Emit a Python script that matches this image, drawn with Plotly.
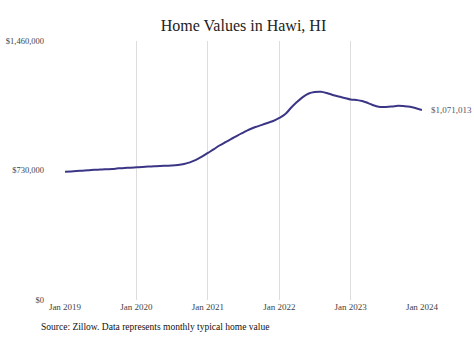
import plotly.graph_objects as go
import pandas as pd

dates = pd.date_range("2019-01-01", "2024-01-01", freq="MS")
values = [
    723000, 725000, 727000, 729000, 731000, 734000, 735000, 737000, 739000, 742000, 744000, 746000,
    748000, 750000, 752000, 754000, 756000, 757000, 758000, 761000, 767000, 776000, 790000, 808000,
    829000, 850000, 871000, 890000, 908000, 927000, 944000, 961000, 975000, 986000, 998000, 1009000,
    1026000, 1048000, 1082000, 1116000, 1144000, 1164000, 1172000, 1174000, 1167000, 1156000, 1147000, 1139000,
    1130000, 1127000, 1122000, 1110000, 1096000, 1088000, 1088000, 1091000, 1095000, 1093000, 1089000, 1081000,
    1071013,
]
x_ticks = ["2019-01-01", "2020-01-01", "2021-01-01", "2022-01-01", "2023-01-01", "2024-01-01"]
x_labels = ["Jan 2019", "Jan 2020", "Jan 2021", "Jan 2022", "Jan 2023", "Jan 2024"]
y_ticks = [0, 730000, 1460000]
y_labels = ["$0", "$730,000", "$1,460,000"]
last_label = "$1,071,013"

FONT = "Liberation Serif"
fig = go.Figure()
fig.add_trace(go.Scatter(x=dates, y=values, mode="lines",
                         line=dict(color="#3b3585", width=2, shape="spline", smoothing=1),
                         hoverinfo="skip"))
fig.add_annotation(x=dates[-1], y=values[-1], text=last_label, showarrow=False,
                   xanchor="left", xshift=7, font=dict(family=FONT, size=9, color="#555566"))
fig.update_layout(
    width=474, height=338,
    margin=dict(l=65, r=52, t=41, b=38, autoexpand=False),
    paper_bgcolor="white", plot_bgcolor="white",
    showlegend=False,
    title=dict(text="Home Values in Hawi, HI", x=0.5, xref="paper", y=0.925, yref="container",
               xanchor="center", yanchor="middle",
               font=dict(family=FONT, size=16, color="#222222")),
    font=dict(family=FONT),
)
fig.update_xaxes(range=[dates[0], dates[-1]], tickvals=x_ticks, ticktext=x_labels,
                 showgrid=True, gridcolor="#dddddd", gridwidth=1, zeroline=False,
                 showline=False, ticks="", automargin=False,
                 tickfont=dict(family=FONT, size=9, color="#444444"))
fig.update_yaxes(range=[0, 1460000], tickvals=y_ticks, ticktext=y_labels,
                 showgrid=False, zeroline=False, showline=False, ticks="",
                 ticklabelstandoff=20, automargin=False,
                 tickfont=dict(family=FONT, size=8.5, color="#444444"))
fig.add_annotation(x=0, xref="paper", xanchor="left", xshift=-26, y=0, yref="paper", yshift=-20,
                   yanchor="top", showarrow=False,
                   text="Source: Zillow. Data represents monthly typical home value",
                   font=dict(family=FONT, size=9.5, color="#111111"))
fig.write_html("out.html")
